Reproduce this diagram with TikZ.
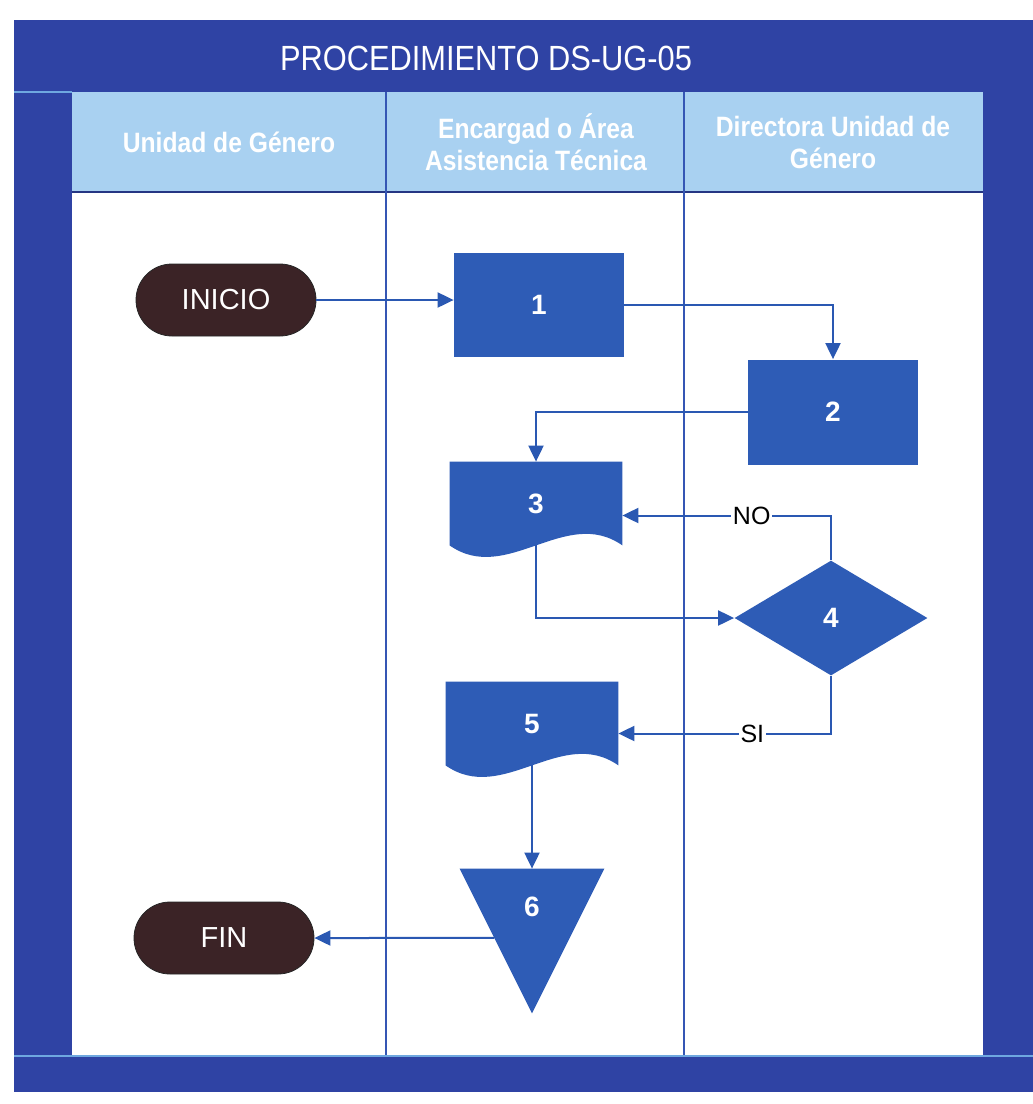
\documentclass[tikz,border=0pt]{standalone}
\usepackage{fontspec}
\setmainfont{Liberation Sans}
\newfontfamily\narrowfont{Liberation Sans}[FakeStretch=0.88]
\usetikzlibrary{shapes.geometric,shapes.misc,arrows.meta,calc}
\pgfdeclarelayer{frame}
\pgfdeclarelayer{shapefill}
\pgfsetlayers{frame,shapefill,main}

\definecolor{framebl}{HTML}{2F43A4}
\definecolor{headbl}{HTML}{A9D1F1}
\definecolor{stepbl}{HTML}{2E5CB6}
\definecolor{linebl}{HTML}{2A58B2}
\definecolor{termbr}{HTML}{3B2326}
\definecolor{edgebl}{HTML}{6FA8E0}
\definecolor{lanebl}{HTML}{3556B4}

\begin{document}
\begin{tikzpicture}[x=0.5pt,y=-0.5pt,
  flow/.style={draw=linebl, line width=1pt, -{Triangle[length=8pt,width=7.5pt]}},
  term/.style={rounded rectangle, fill=termbr, draw=black!85, line width=0.4pt,
    minimum width=90pt, minimum height=36pt, inner sep=0pt, text=white,
    font=\fontsize{14.5}{16}\selectfont},
  stepbox/.style={rectangle, fill=stepbl, minimum width=85pt, minimum height=52pt,
    inner sep=0pt, text=white, font=\bfseries\fontsize{14}{16}\selectfont},
  docbox/.style={stepbox, fill=none, minimum width=86pt, minimum height=41.5pt},
  tribox/.style={rectangle, minimum width=72pt, minimum height=72pt, inner sep=0pt},
  numtext/.style={text=white, inner sep=0pt, font=\bfseries\fontsize{14}{16}\selectfont},
  decision/.style={diamond, fill=stepbl, minimum width=96.5pt, minimum height=57.5pt,
    inner sep=0pt, text=white, font=\bfseries\fontsize{14}{16}\selectfont},
  branch/.style={fill=white, inner sep=1pt, text=black, font=\fontsize{12.5}{14}\selectfont},
  lanehead/.style={align=center, text=white, font=\narrowfont\bfseries\fontsize{14}{16}\selectfont},
  titletext/.style={text=white, font=\narrowfont\fontsize{17.5}{20}\selectfont},
  laneline/.style={draw=lanebl, line width=0.9pt}
]
\useasboundingbox (0,0) rectangle (1033,1104);

% frame, header band and lanes
\begin{pgfonlayer}{frame}
  \fill[white] (0,0) rectangle (1033,1104);
  \fill[framebl] (14,20) rectangle (1033,1092);
  \fill[headbl] (72,92) rectangle (983,192);
  \fill[white] (72,192) rectangle (983,1055);
  \draw[edgebl, line width=0.8pt] (14,92) -- (72,92);
  \draw[edgebl, line width=0.8pt] (14,1056) -- (1033,1056);
  \draw[framebl!80!black, line width=1pt] (72,192) -- (983,192);
  \draw[laneline] (386,92) -- (386,1055);
  \draw[laneline] (684,92) -- (684,1055);
\end{pgfonlayer}

% title and lane headings
\node[titletext] (title) at (486,58) {PROCEDIMIENTO DS-UG-05};
\node[lanehead] (h1) at (229,142) {Unidad de Género};
\node[lanehead] (h2) at (536,142) {Encargad o Área\\Asistencia Técnica};
\node[lanehead] (h3) at (833,142) {Directora Unidad de\\Género};

% steps
\node[term] (inicio) at (226,300) {INICIO};
\node[stepbox] (n1) at (539,305) {1};
\node[stepbox, minimum width=85pt, minimum height=52.5pt] (n2) at (833,412) {2};
\node[docbox] (n3) at (536,503.5) {3};
\node[decision] (n4) at (831,618) {4};
\node[docbox] (n5) at (532,723.5) {5};
\node[tribox] (n6) at (532,941) {};
\node[numtext] (n6num) at ($(n6.north)+(0,38)$) {6};
\node[term] (fin) at (224,938) {FIN};

% document and merge shapes
\begin{pgfonlayer}{shapefill}
  \fill[stepbl] (n3.north west) -- (n3.north east) -- (n3.south east)
    .. controls +(-57,-40) and +(57,40) .. (n3.south west) -- cycle;
  \fill[stepbl] (n5.north west) -- (n5.north east) -- (n5.south east)
    .. controls +(-57,-40) and +(57,40) .. (n5.south west) -- cycle;
  \fill[stepbl] (n6.north west) -- (n6.north east) -- (n6.south) -- cycle;
\end{pgfonlayer}

% connectors
\draw[flow] (inicio.east) -- (inicio.east -| n1.west);
\draw[flow] (n1.east) -| (n2.north);
\draw[flow] (n2.west) -| (n3.north);
\draw[flow] (n4.north) |- node[branch, pos=0.69] (no) {NO} ([yshift=-6pt]n3.east);
\draw[flow] (n3.south) |- (n4.west);
\draw[flow] (n4.south) |- node[branch, pos=0.685] (si) {SI} ([yshift=-5pt]n5.east);
\draw[flow] (n5.south) -- (n6.north);
\draw[flow] ($(n6.north west)!0.479!(n6.south)$) -- (fin.east);
\end{tikzpicture}
\end{document}
